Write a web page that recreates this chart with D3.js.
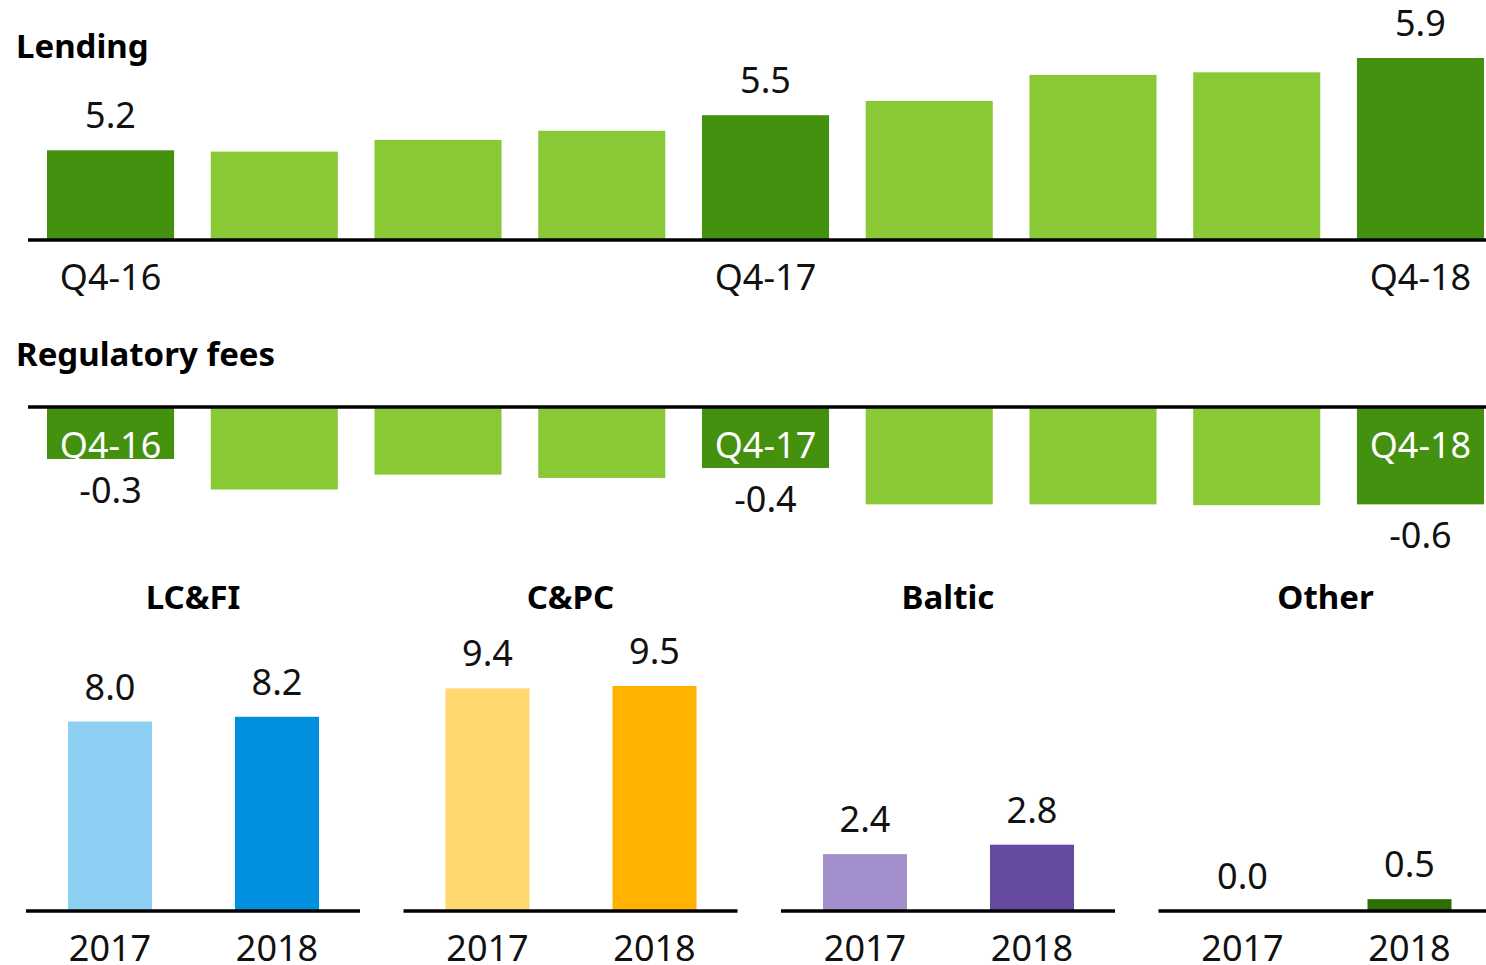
<!DOCTYPE html>
<html>
<head>
<meta charset="utf-8">
<script src="https://cdn.jsdelivr.net/npm/d3@7"></script>
<style>
  body { margin: 0; background: #fff; }
  text { font-family: "Noto Sans", sans-serif; }
  .title { font-weight: bold; font-size: 33px; fill: #000; }
  .lbl { font-size: 36px; fill: #111; }
</style>
</head>
<body>
<div id="container"></div>
<script>
// quarterly values, labels only on Q4
var quarters = [
  { q: "Q4-16", lending: 5.19, fees: -0.315, dark: true },
  { q: "Q1-17", lending: 5.18, fees: -0.50 },
  { q: "Q2-17", lending: 5.27, fees: -0.41 },
  { q: "Q3-17", lending: 5.34, fees: -0.43 },
  { q: "Q4-17", lending: 5.46, fees: -0.37, dark: true },
  { q: "Q1-18", lending: 5.57, fees: -0.59 },
  { q: "Q2-18", lending: 5.77, fees: -0.59 },
  { q: "Q3-18", lending: 5.79, fees: -0.595 },
  { q: "Q4-18", lending: 5.90, fees: -0.59, dark: true }
];

var segments = [
  { name: "LC&FI", values: [8.0, 8.2], colors: ["#8ccff3", "#0090df"] },
  { name: "C&PC", values: [9.4, 9.5], colors: ["#ffd870", "#ffb300"] },
  { name: "Baltic", values: [2.4, 2.8], colors: ["#a38fcb", "#654aa0"] },
  { name: "Other", values: [0.0, 0.5], colors: ["#2e6e00", "#2e6e00"] }
];
var years = ["2017", "2018"];

var width = 1486, height = 965;
var darkGreen = "#43910e", lightGreen = "#8ac936";
// plain hyphen for negatives, like the original slide
var fmt = function (v) { return d3.format(".1f")(v).replace("\u2212", "-"); };

var svg = d3.select("#container").append("svg")
  .attr("width", width)
  .attr("height", height);

var x = d3.scaleBand()
  .domain(quarters.map(function (d) { return d.q; }))
  .range([47, 1484])
  .paddingInner(0.224)
  .paddingOuter(0);

// ---- Lending ----
var yLend = d3.scaleLinear().domain([4.5, 6]).range([240, 45]);

svg.append("text").attr("class", "title").attr("x", 16).attr("y", 58).text("Lending");

svg.selectAll(".lend")
  .data(quarters)
  .enter().append("rect")
  .attr("class", "lend")
  .attr("x", function (d) { return x(d.q); })
  .attr("width", x.bandwidth())
  .attr("y", function (d) { return yLend(d.lending); })
  .attr("height", function (d) { return yLend(4.5) - yLend(d.lending); })
  .attr("fill", function (d) { return d.dark ? darkGreen : lightGreen; });

svg.append("line")
  .attr("x1", 28).attr("x2", width)
  .attr("y1", yLend(4.5)).attr("y2", yLend(4.5))
  .attr("stroke", "#000").attr("stroke-width", 3.5);

var q4 = quarters.filter(function (d) { return d.dark; });

svg.selectAll(".lendVal")
  .data(q4)
  .enter().append("text")
  .attr("class", "lbl")
  .attr("text-anchor", "middle")
  .attr("x", function (d) { return x(d.q) + x.bandwidth() / 2; })
  .attr("y", function (d) { return yLend(d.lending) - 22; })
  .text(function (d) { return fmt(d.lending); });

svg.selectAll(".lendQ")
  .data(q4)
  .enter().append("text")
  .attr("class", "lbl")
  .attr("text-anchor", "middle")
  .attr("x", function (d) { return x(d.q) + x.bandwidth() / 2; })
  .attr("y", 290)
  .text(function (d) { return d.q; });

// ---- Regulatory fees ----
var yFee = d3.scaleLinear().domain([-0.6, 0]).range([506, 407]);

svg.append("text").attr("class", "title").attr("x", 16).attr("y", 366).text("Regulatory fees");

svg.selectAll(".fee")
  .data(quarters)
  .enter().append("rect")
  .attr("class", "fee")
  .attr("x", function (d) { return x(d.q); })
  .attr("width", x.bandwidth())
  .attr("y", yFee(0))
  .attr("height", function (d) { return yFee(d.fees) - yFee(0); })
  .attr("fill", function (d) { return d.dark ? darkGreen : lightGreen; });

svg.append("line")
  .attr("x1", 28).attr("x2", width)
  .attr("y1", yFee(0)).attr("y2", yFee(0))
  .attr("stroke", "#000").attr("stroke-width", 3.5);

svg.selectAll(".feeQ")
  .data(q4)
  .enter().append("text")
  .attr("class", "lbl")
  .attr("text-anchor", "middle")
  .style("fill", "#fff")
  .attr("x", function (d) { return x(d.q) + x.bandwidth() / 2; })
  .attr("y", 458)
  .text(function (d) { return d.q; });

svg.selectAll(".feeVal")
  .data(q4)
  .enter().append("text")
  .attr("class", "lbl")
  .attr("text-anchor", "middle")
  .attr("x", function (d) { return x(d.q) + x.bandwidth() / 2; })
  .attr("y", function (d) { return yFee(d.fees) + 44; })
  .text(function (d) { return fmt(d.fees); });

// ---- segments 2017 vs 2018 ----
var panel = d3.scaleBand()
  .domain(segments.map(function (d) { return d.name; }))
  .range([26, 26 + 4 * 377.5]);
var xYear = d3.scaleBand().domain(years).range([42, 293]).paddingInner(0.497).paddingOuter(0);
var ySeg = d3.scaleLinear().domain([0, 9.5]).range([911, 686]);

var g = svg.selectAll(".seg")
  .data(segments)
  .enter().append("g")
  .attr("class", "seg")
  .attr("transform", function (d) { return "translate(" + panel(d.name) + ",0)"; });

g.append("text")
  .attr("class", "title")
  .attr("text-anchor", "middle")
  .attr("x", 167)
  .attr("y", 609)
  .text(function (d) { return d.name; });

g.selectAll("rect")
  .data(function (d) {
    return d.values.map(function (v, i) { return { year: years[i], value: v, color: d.colors[i] }; });
  })
  .enter().append("rect")
  .attr("x", function (d) { return xYear(d.year); })
  .attr("width", xYear.bandwidth())
  .attr("y", function (d) { return ySeg(d.value); })
  .attr("height", function (d) { return ySeg(0) - ySeg(d.value); })
  .attr("fill", function (d) { return d.color; });

g.append("line")
  .attr("x1", 0).attr("x2", 334)
  .attr("y1", ySeg(0)).attr("y2", ySeg(0))
  .attr("stroke", "#000").attr("stroke-width", 3.5);

g.selectAll(".val")
  .data(function (d) {
    return d.values.map(function (v, i) { return { year: years[i], value: v }; });
  })
  .enter().append("text")
  .attr("class", "lbl val")
  .attr("text-anchor", "middle")
  .attr("x", function (d) { return xYear(d.year) + xYear.bandwidth() / 2; })
  .attr("y", function (d) { return ySeg(d.value) - 22; })
  .text(function (d) { return fmt(d.value); });

g.selectAll(".yr")
  .data(years)
  .enter().append("text")
  .attr("class", "lbl yr")
  .attr("text-anchor", "middle")
  .attr("x", function (d) { return xYear(d) + xYear.bandwidth() / 2; })
  .attr("y", 961)
  .text(function (d) { return d; });
</script>
</body>
</html>
